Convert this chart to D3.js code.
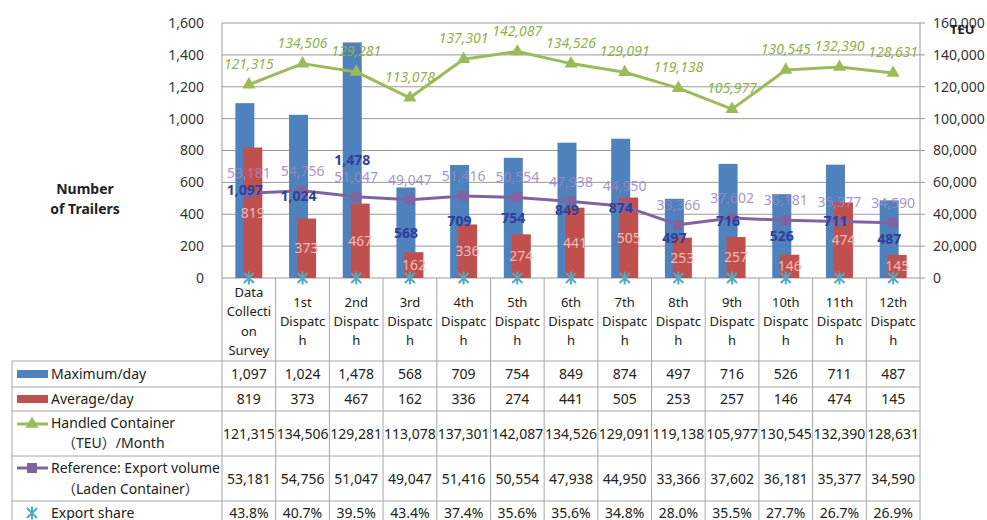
<!DOCTYPE html>
<html>
<head>
<meta charset="utf-8">
<script src="https://cdn.jsdelivr.net/npm/d3@7"></script>
<style>
  body { margin: 0; background: #fff; }
  svg { font-family: "Noto Sans", "Noto Sans CJK JP", sans-serif; }
</style>
</head>
<body>
<script>
// categories (as wrapped in the table header)
const categories = ['Data Collection Survey', '1st Dispatch', '2nd Dispatch', '3rd Dispatch', '4th Dispatch',
  '5th Dispatch', '6th Dispatch', '7th Dispatch', '8th Dispatch', '9th Dispatch', '10th Dispatch',
  '11th Dispatch', '12th Dispatch'];
const categoryLines = [['Data', 'Collecti', 'on', 'Survey'], ['1st', 'Dispatc', 'h'], ['2nd', 'Dispatc', 'h'],
  ['3rd', 'Dispatc', 'h'], ['4th', 'Dispatc', 'h'], ['5th', 'Dispatc', 'h'], ['6th', 'Dispatc', 'h'],
  ['7th', 'Dispatc', 'h'], ['8th', 'Dispatc', 'h'], ['9th', 'Dispatc', 'h'], ['10th', 'Dispatc', 'h'],
  ['11th', 'Dispatc', 'h'], ['12th', 'Dispatc', 'h']];

// series
const maxPerDay = [1097, 1024, 1478, 568, 709, 754, 849, 874, 497, 716, 526, 711, 487];
const avgPerDay = [819, 373, 467, 162, 336, 274, 441, 505, 253, 257, 146, 474, 145];
const handledTEU = [121315, 134506, 129281, 113078, 137301, 142087, 134526, 129091, 119138, 105977, 130545, 132390, 128631];
const exportVolume = [53181, 54756, 51047, 49047, 51416, 50554, 47938, 44950, 33366, 37602, 36181, 35377, 34590];
const exportShare = [43.8, 40.7, 39.5, 43.4, 37.4, 35.6, 35.6, 34.8, 28.0, 35.5, 27.7, 26.7, 26.9];

// axis ticks
const leftTicks = [0, 200, 400, 600, 800, 1000, 1200, 1400, 1600];
const rightTicks = [0, 20000, 40000, 60000, 80000, 100000, 120000, 140000, 160000];

const W = 987, H = 520;
const plot = {left: 222, right: 920, top: 23, bottom: 278};
const tableLeft = 12;
const rowEdges = [278, 361, 387, 411, 456, 501, 530]; // header, max, avg, teu, export vol, share

const svg = d3.select('body').append('svg').attr('width', W).attr('height', H);

const x = d3.scaleBand().domain(categories).range([plot.left, plot.right]);
const yL = d3.scaleLinear().domain([0, 1600]).range([plot.bottom, plot.top]);
const yR = d3.scaleLinear().domain([0, 160000]).range([plot.bottom, plot.top]);
const fmt = d3.format(',');
const cx = (d, i) => x(categories[i]) + x.bandwidth() / 2;

const gridColor = '#9a9a9a';

// gridlines
svg.append('g').selectAll('line').data(leftTicks).join('line')
  .attr('x1', plot.left).attr('x2', plot.right)
  .attr('y1', d => yL(d)).attr('y2', d => yL(d))
  .attr('stroke', gridColor).attr('stroke-width', 1);

// plot frame sides
svg.append('line').attr('x1', plot.left).attr('x2', plot.left).attr('y1', plot.top).attr('y2', plot.bottom)
  .attr('stroke', gridColor);
svg.append('line').attr('x1', plot.right).attr('x2', plot.right).attr('y1', plot.top).attr('y2', plot.bottom)
  .attr('stroke', gridColor);

// left axis labels
svg.append('g').selectAll('text').data(leftTicks).join('text')
  .attr('x', 204).attr('y', d => yL(d)).attr('dy', '0.35em')
  .attr('text-anchor', 'end').attr('font-size', 14).attr('fill', '#333')
  .text(d => fmt(d));

// right axis ticks + labels
svg.append('g').selectAll('line').data(rightTicks).join('line')
  .attr('x1', plot.right).attr('x2', plot.right + 5)
  .attr('y1', d => yR(d)).attr('y2', d => yR(d))
  .attr('stroke', gridColor);
svg.append('g').selectAll('text').data(rightTicks).join('text')
  .attr('x', 933).attr('y', d => yR(d)).attr('dy', '0.35em')
  .attr('font-size', 14).attr('fill', '#333')
  .text(d => fmt(d));

svg.append('text').attr('x', 950).attr('y', 34).attr('font-size', 13).attr('font-weight', 'bold')
  .attr('fill', '#222').text('TEU');

// left axis title
const ttl = svg.append('text').attr('text-anchor', 'middle').attr('font-size', 14)
  .attr('font-weight', 'bold').attr('fill', '#222');
ttl.append('tspan').attr('x', 85).attr('y', 194).text('Number');
ttl.append('tspan').attr('x', 85).attr('y', 214).text('of Trailers');

// bars
const bw = 19, off = 4;
svg.append('g').selectAll('rect').data(maxPerDay).join('rect')
  .attr('x', (d, i) => cx(d, i) - off - bw / 2).attr('width', bw)
  .attr('y', d => yL(d)).attr('height', d => yL(0) - yL(d))
  .attr('fill', '#4f81bd');
svg.append('g').selectAll('rect').data(avgPerDay).join('rect')
  .attr('x', (d, i) => cx(d, i) + off - bw / 2).attr('width', bw)
  .attr('y', d => yL(d)).attr('height', d => yL(0) - yL(d))
  .attr('fill', '#c0504d');

// lines
const teuLine = d3.line().x((d, i) => cx(d, i)).y(d => yR(d));
svg.append('path').datum(handledTEU).attr('d', teuLine)
  .attr('fill', 'none').attr('stroke', '#9bbb59').attr('stroke-width', 3).attr('stroke-linejoin', 'round');
svg.append('path').datum(exportVolume).attr('d', teuLine)
  .attr('fill', 'none').attr('stroke', '#8064a2').attr('stroke-width', 3).attr('stroke-linejoin', 'round');

const tri = d3.symbol().type(d3.symbolTriangle).size(75);
svg.append('g').selectAll('path').data(handledTEU).join('path')
  .attr('d', tri).attr('transform', (d, i) => `translate(${cx(d, i)},${yR(d)})`)
  .attr('fill', '#9bbb59');
svg.append('g').selectAll('rect').data(exportVolume).join('rect')
  .attr('x', (d, i) => cx(d, i) - 5).attr('y', d => yR(d) - 5)
  .attr('width', 10).attr('height', 10).attr('fill', '#8064a2');

// asterisk marker (export share, plotted as a fraction on left axis)
const star = s => `M${-s},${-s}L${s},${s}M${-s},${s}L${s},${-s}M0,${-s * 1.3}L0,${s * 1.3}`;
svg.append('g').selectAll('path').data(exportShare).join('path')
  .attr('d', star(5)).attr('transform', (d, i) => `translate(${cx(d, i)},${yL(d / 100)})`)
  .attr('fill', 'none').attr('stroke', '#4bacc6').attr('stroke-width', 2);

// data labels
svg.append('g').selectAll('text').data(handledTEU).join('text')
  .attr('x', (d, i) => cx(d, i)).attr('y', d => yR(d) - 16)
  .attr('text-anchor', 'middle').attr('font-size', 14).attr('font-style', 'italic')
  .attr('fill', '#8fb04c').text(d => fmt(d));
svg.append('g').selectAll('text').data(exportVolume).join('text')
  .attr('x', (d, i) => cx(d, i)).attr('y', d => yR(d) - 15)
  .attr('text-anchor', 'middle').attr('font-size', 14)
  .attr('fill', '#9c88c2').attr('fill-opacity', 0.9).text(d => fmt(d));
svg.append('g').selectAll('text').data(maxPerDay).join('text')
  .attr('x', (d, i) => cx(d, i) - off).attr('y', d => yL(d / 2)).attr('dy', '0.35em')
  .attr('text-anchor', 'middle').attr('font-size', 14).attr('font-weight', 'bold')
  .attr('fill', '#2f3f99').text(d => fmt(d));
svg.append('g').selectAll('text').data(avgPerDay).join('text')
  .attr('x', (d, i) => cx(d, i) + off).attr('y', d => yL(d / 2)).attr('dy', '0.35em')
  .attr('text-anchor', 'middle').attr('font-size', 14)
  .attr('fill', '#ecbcbb').text(d => fmt(d));

// ---- data table ----
const tbl = svg.append('g').attr('stroke', '#a6a6a6').attr('stroke-width', 1);
const colEdges = categories.map(c => x(c)).concat([plot.right]);
colEdges.forEach(cxe => {
  tbl.append('line').attr('x1', cxe).attr('x2', cxe).attr('y1', rowEdges[0]).attr('y2', H);
});
tbl.append('line').attr('x1', tableLeft).attr('x2', tableLeft).attr('y1', rowEdges[1]).attr('y2', H);
rowEdges.slice(1, 6).forEach(ry => {
  tbl.append('line').attr('x1', tableLeft).attr('x2', plot.right).attr('y1', ry).attr('y2', ry);
});

// header text
const hdr = svg.append('g').attr('font-size', 13).attr('fill', '#222').attr('text-anchor', 'middle');
categoryLines.forEach((lines, i) => {
  const mid = (rowEdges[0] + rowEdges[1]) / 2 + 2;
  const lh = 19.3;
  const t = hdr.append('text');
  lines.forEach((ln, j) => {
    t.append('tspan').attr('x', x(categories[i]) + x.bandwidth() / 2)
      .attr('y', mid + (j - (lines.length - 1) / 2) * lh).attr('dy', '0.35em').text(ln);
  });
});

// value rows
const rows = [
  {vals: maxPerDay.map(fmt)},
  {vals: avgPerDay.map(fmt)},
  {vals: handledTEU.map(fmt)},
  {vals: exportVolume.map(fmt)},
  {vals: exportShare.map(d => d.toFixed(1) + '%')}
];
const rowMid = [374, 399, 434, 479, 513];
rows.forEach((r, k) => {
  svg.append('g').selectAll('text').data(r.vals).join('text')
    .attr('x', (d, i) => x(categories[i]) + x.bandwidth() / 2).attr('y', rowMid[k]).attr('dy', '0.35em')
    .attr('text-anchor', 'middle').attr('font-size', 14).attr('fill', '#222').text(d => d);
});

// row legend
const lg = svg.append('g').attr('font-size', 14).attr('fill', '#222');
lg.append('rect').attr('x', 17).attr('y', rowMid[0] - 4).attr('width', 31).attr('height', 8).attr('fill', '#4f81bd');
lg.append('rect').attr('x', 17).attr('y', rowMid[1] - 4).attr('width', 31).attr('height', 8).attr('fill', '#c0504d');
lg.append('line').attr('x1', 17).attr('x2', 48).attr('y1', 424).attr('y2', 424).attr('stroke', '#9bbb59').attr('stroke-width', 3);
lg.append('path').attr('d', tri).attr('transform', 'translate(32,424)').attr('fill', '#9bbb59');
lg.append('line').attr('x1', 17).attr('x2', 48).attr('y1', 468).attr('y2', 468).attr('stroke', '#8064a2').attr('stroke-width', 3);
lg.append('rect').attr('x', 27).attr('y', 463).attr('width', 10).attr('height', 10).attr('fill', '#8064a2');
lg.append('path').attr('d', star(5)).attr('transform', 'translate(32,513)')
  .attr('fill', 'none').attr('stroke', '#4bacc6').attr('stroke-width', 2);

const lgText = [
  {x: 51, y: 374, t: 'Maximum/day'},
  {x: 51, y: 399, t: 'Average/day'},
  {x: 51, y: 423, t: 'Handled Container'},
  {x: 62, y: 443, t: '（TEU）/Month'},
  {x: 51, y: 468, t: 'Reference: Export volume'},
  {x: 62, y: 489, t: '（Laden Container）'},
  {x: 51, y: 513, t: 'Export share'}
];
lg.selectAll('text').data(lgText).join('text')
  .attr('x', d => d.x).attr('y', d => d.y).attr('dy', '0.35em').text(d => d.t);
</script>
</body>
</html>
